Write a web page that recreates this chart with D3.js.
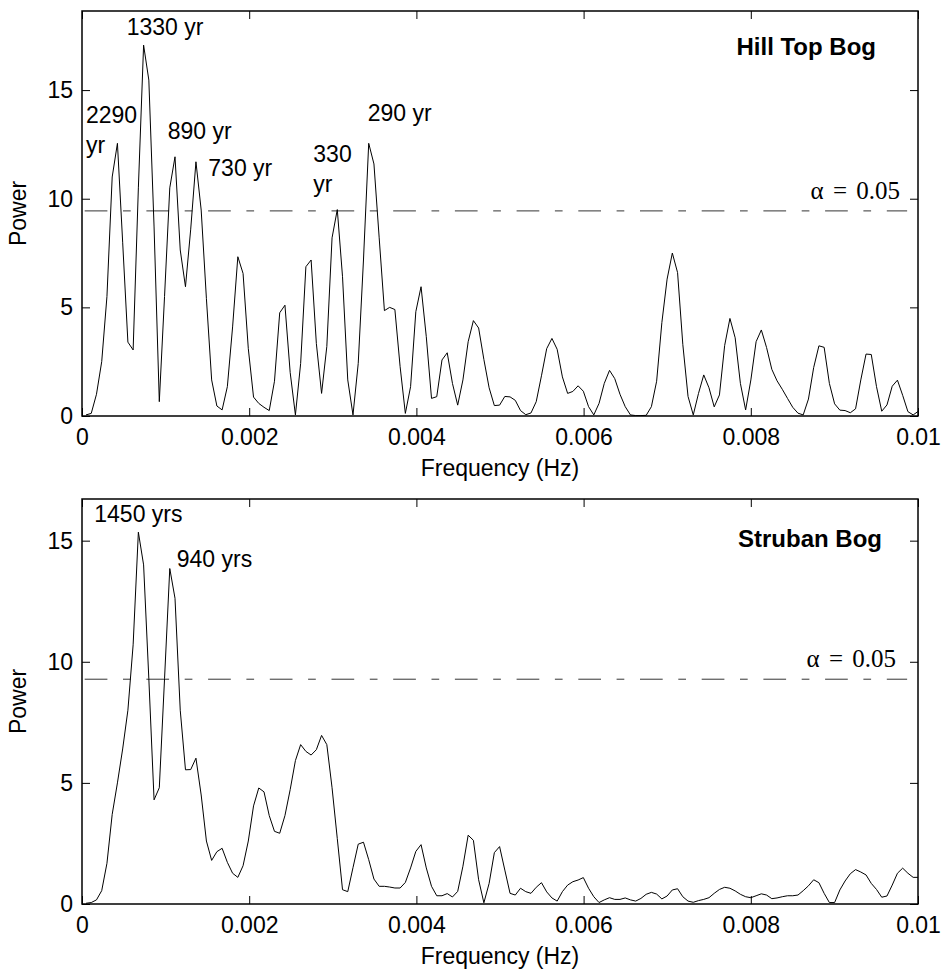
<!DOCTYPE html>
<html>
<head>
<meta charset="utf-8">
<script src="https://cdn.jsdelivr.net/npm/d3@7"></script>
<style>
  body { margin: 0; background: #fff; }
  text { font-family: "Liberation Sans", Arial, Helvetica, sans-serif; }
</style>
</head>
<body>
<div id="chart"></div>
<script>
// frequency grid of the spectra (Hz): first bin and bin width
const freqStart = 4.8e-5;
const freqStep = 6.262e-5;

// spectral power, Hill Top Bog
const hillTopPower = [
  0.05, 0.12, 1.0, 2.5, 5.5, 11.0, 12.55, 8.0, 3.4, 3.04,
  10.5, 17.07, 15.46, 8.7, 0.66, 5.5, 10.5, 11.93, 7.64, 5.95,
  8.6, 11.7, 9.48, 5.4, 1.66, 0.46, 0.28, 1.35, 4.1, 7.33,
  6.56, 3.1, 0.87, 0.58, 0.4, 0.25, 1.6, 4.75, 5.1, 2.0,
  0.05, 2.42, 6.87, 7.18, 3.34, 1.04, 3.2, 8.2, 9.5, 6.41,
  1.66, 0.05, 2.42, 7.18, 12.55, 11.6, 8.2, 4.85, 5.0, 4.9,
  2.27, 0.12, 1.35, 4.8, 5.95, 3.65, 0.81, 0.89, 2.58, 2.91,
  1.5, 0.5, 1.66, 3.42, 4.39, 4.05, 2.6, 1.3, 0.48, 0.5,
  0.9, 0.88, 0.72, 0.25, 0.06, 0.14, 0.66, 1.85, 3.1, 3.57,
  3.07, 1.8, 1.04, 1.13, 1.39, 1.14, 0.43, 0.05, 0.58, 1.5,
  2.1, 1.72, 1.0, 0.43, 0.05, 0.02, 0.02, 0.03, 0.43, 1.6,
  4.3, 6.3, 7.5, 6.6, 3.3, 0.9, 0.05, 1.04, 1.89, 1.3,
  0.42, 0.97, 3.25, 4.49, 3.6, 1.5, 0.28, 1.66, 3.42, 3.96,
  3.15, 2.15, 1.62, 1.23, 0.81, 0.4, 0.13, 0.05, 0.78, 2.23,
  3.23, 3.16, 1.5, 0.56, 0.27, 0.25, 0.15, 0.33, 1.66, 2.85,
  2.83, 1.35, 0.22, 0.51, 1.37, 1.65, 0.95, 0.2, 0.05, 0.22
];

// spectral power, Struban Bog
const strubanPower = [
  0.03, 0.06, 0.17, 0.55, 1.68, 3.7, 5.0, 6.4, 8.0, 10.7,
  15.35, 14.0, 9.3, 4.3, 4.8, 9.3, 13.85, 12.62, 8.0, 5.54,
  5.55, 6.02, 4.5, 2.6, 1.8, 2.16, 2.3, 1.72, 1.27, 1.1,
  1.58, 2.6, 4.05, 4.79, 4.63, 3.65, 3.0, 2.92, 3.65, 4.72,
  5.92, 6.58, 6.3, 6.15, 6.37, 6.96, 6.58, 4.8, 2.7, 0.59,
  0.51, 1.5, 2.47, 2.55, 1.83, 1.03, 0.73, 0.73, 0.7, 0.66,
  0.66, 0.89, 1.49, 2.17, 2.45, 1.49, 0.73, 0.34, 0.34, 0.43,
  0.29, 0.52, 1.56, 2.84, 2.63, 1.0, 0.05, 0.85, 2.12, 2.37,
  1.4, 0.44, 0.37, 0.65, 0.51, 0.44, 0.69, 0.88, 0.5, 0.25,
  0.12, 0.51, 0.78, 0.92, 0.99, 1.09, 0.65, 0.3, 0.06, 0.17,
  0.26, 0.19, 0.19, 0.25, 0.17, 0.12, 0.23, 0.4, 0.48, 0.41,
  0.21, 0.33, 0.58, 0.63, 0.3, 0.12, 0.07, 0.14, 0.19, 0.26,
  0.44, 0.6, 0.69, 0.65, 0.54, 0.4, 0.3, 0.26, 0.34, 0.42,
  0.37, 0.22, 0.25, 0.3, 0.34, 0.34, 0.37, 0.55, 0.75, 1.0,
  0.88, 0.44, 0.06, 0.06, 0.58, 0.95, 1.25, 1.42, 1.32, 1.2,
  0.85, 0.6, 0.28, 0.33, 0.78, 1.27, 1.48, 1.27, 1.1, 1.1
];

// axes
const xTicks = [0, 0.002, 0.004, 0.006, 0.008, 0.01];
const xTickLabels = ["0", "0.002", "0.004", "0.006", "0.008", "0.01"];
const yTicks = [0, 5, 10, 15];
const yTickLabels = ["0", "5", "10", "15"];
const hillTopYMax = 18.64;
const strubanYMax = 16.72;

// 95% significance levels
const hillTopAlpha = 9.44;
const strubanAlpha = 9.28;

// peak labels: text lines and anchor (frequency, power)
const hillTopPeaks = [
  { lines: ["2290", "yr"], f: 0.000048, p: 13.47 },
  { lines: ["1330 yr"], f: 0.000535, p: 17.53 },
  { lines: ["890 yr"], f: 0.001025, p: 12.73 },
  { lines: ["730 yr"], f: 0.001511, p: 11.05 },
  { lines: ["330", "yr"], f: 0.002767, p: 11.7 },
  { lines: ["290 yr"], f: 0.003417, p: 13.58 }
];
const strubanPeaks = [
  { lines: ["1450 yrs"], f: 0.000147, p: 15.78 },
  { lines: ["940 yrs"], f: 0.001133, p: 13.9 }
];

const width = 943, height = 969;
const svg = d3.select("#chart").append("svg")
  .attr("width", width)
  .attr("height", height);

function drawPanel(opt) {
  const left = 82, right = 918;
  const top = opt.top, bottom = opt.top + 405;

  const freqs = d3.range(opt.power.length).map(i => freqStart + i * freqStep);
  const data = freqs.map((f, i) => ({ f: f, p: opt.power[i] }));

  const x = d3.scaleLinear().domain([0, 0.01]).range([left, right]);
  const y = d3.scaleLinear().domain([0, opt.yMax]).range([bottom, top]);

  const g = svg.append("g");

  // clip to the box
  g.append("clipPath").attr("id", opt.id + "-clip")
    .append("rect")
    .attr("x", left).attr("y", top)
    .attr("width", right - left).attr("height", bottom - top);

  // significance line
  g.append("line")
    .attr("x1", x(0)).attr("x2", x(0.00987))
    .attr("y1", y(opt.alpha)).attr("y2", y(opt.alpha))
    .attr("stroke", "#333")
    .attr("stroke-width", 1)
    .attr("stroke-dasharray", "22.7,15.6,7.7,15.7")
    .attr("stroke-dashoffset", 59);

  g.append("text")
    .attr("x", opt.alphaX)
    .attr("y", y(opt.alpha) - 12)
    .attr("text-anchor", "end")
    .style("font-family", "'Liberation Serif', 'Times New Roman', serif")
    .style("font-size", "25px")
    .style("word-spacing", "3px")
    .text("\u03b1 = 0.05");

  // spectrum
  const line = d3.line().x(d => x(d.f)).y(d => y(d.p));
  g.append("path")
    .datum(data)
    .attr("clip-path", "url(#" + opt.id + "-clip)")
    .attr("fill", "none")
    .attr("stroke", "#000")
    .attr("stroke-width", 1)
    .attr("stroke-linejoin", "miter")
    .attr("d", line);

  // axes, ticks pointing inwards on all four sides
  g.append("g")
    .attr("transform", `translate(0,${bottom})`)
    .call(d3.axisBottom(x).tickValues(xTicks).tickSize(-8).tickPadding(13)
      .tickFormat((d, i) => xTickLabels[i]));
  g.append("g")
    .attr("transform", `translate(0,${top})`)
    .call(d3.axisTop(x).tickValues(xTicks).tickSize(-8).tickFormat(""));
  g.append("g")
    .attr("transform", `translate(${left},0)`)
    .call(d3.axisLeft(y).tickValues(yTicks).tickSize(-8).tickPadding(9)
      .tickFormat((d, i) => yTickLabels[i]));
  g.append("g")
    .attr("transform", `translate(${right},0)`)
    .call(d3.axisRight(y).tickValues(yTicks).tickSize(-8).tickFormat(""));

  g.selectAll(".domain").remove();
  g.selectAll(".tick line").attr("stroke", "#000").attr("stroke-width", 1);
  g.selectAll(".tick text")
    .attr("fill", "#000")
    .style("font-family", "'Liberation Sans', Arial, sans-serif")
    .style("font-size", "23px");

  // frame
  g.append("rect")
    .attr("x", left).attr("y", top)
    .attr("width", right - left).attr("height", bottom - top)
    .attr("fill", "none")
    .attr("stroke", "#000")
    .attr("stroke-width", 1.5);

  // axis titles
  g.append("text")
    .attr("x", (left + right) / 2)
    .attr("y", bottom + 60)
    .attr("text-anchor", "middle")
    .style("font-size", "23px")
    .text("Frequency (Hz)");

  g.append("text")
    .attr("transform", `translate(26,${(top + bottom) / 2}) rotate(-90)`)
    .attr("text-anchor", "middle")
    .style("font-size", "23px")
    .text("Power");

  // site name
  g.append("text")
    .attr("x", opt.titleX)
    .attr("y", top + opt.titleDy)
    .attr("text-anchor", "end")
    .style("font-size", "24px")
    .style("font-weight", "bold")
    .text(opt.title);

  // peak labels
  const labels = g.selectAll(".peak")
    .data(opt.peaks)
    .join("text")
      .attr("class", "peak")
      .attr("x", d => x(d.f))
      .attr("y", d => y(d.p))
      .style("font-size", "23px");
  labels.selectAll("tspan")
    .data(d => d.lines.map(t => ({ t: t, x: x(d.f) })))
    .join("tspan")
      .attr("x", d => d.x)
      .attr("dy", (d, i) => i === 0 ? 0 : 30)
      .text(d => d.t);
}

drawPanel({ id: "hill", top: 11, power: hillTopPower, yMax: hillTopYMax,
  alpha: hillTopAlpha, alphaX: 900, title: "Hill Top Bog", titleX: 876, titleDy: 44,
  peaks: hillTopPeaks });

drawPanel({ id: "struban", top: 499, power: strubanPower, yMax: strubanYMax,
  alpha: strubanAlpha, alphaX: 896, title: "Struban Bog", titleX: 882, titleDy: 48,
  peaks: strubanPeaks });
</script>
</body>
</html>
